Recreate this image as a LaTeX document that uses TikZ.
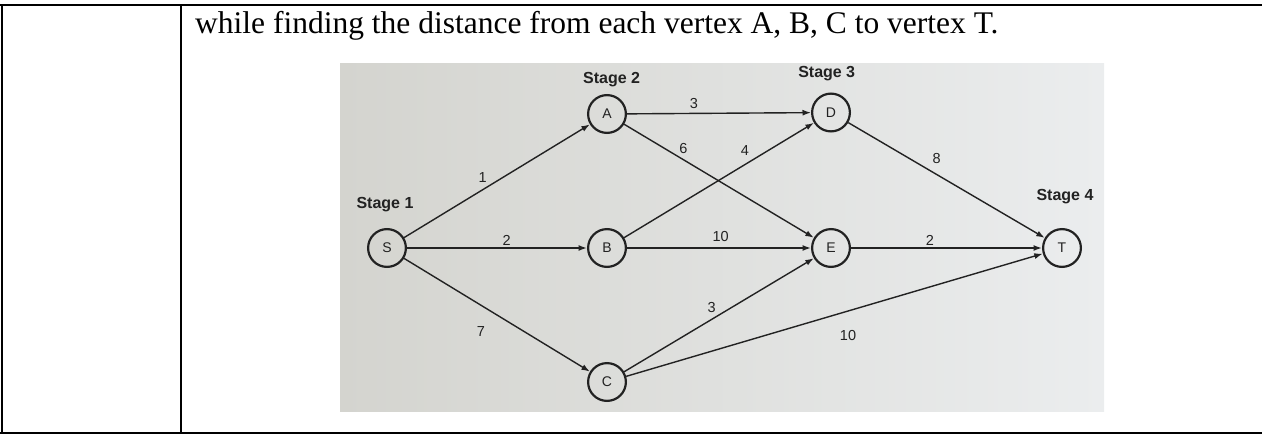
\documentclass[tikz,border=0pt]{standalone}
\usepackage{fontspec}
\setmainfont{Liberation Serif}
\newfontfamily\arialf{Liberation Sans}
\usetikzlibrary{arrows.meta}
\definecolor{ink}{RGB}{34,34,34}
\definecolor{photoL}{RGB}{212,212,207}
\definecolor{photoM}{RGB}{227,227,223}
\definecolor{photoR}{RGB}{235,237,238}
\begin{document}
\begin{tikzpicture}[x=1pt,y=-1pt,
  vtx/.style={circle,draw=ink,line width=2.2pt,minimum size=37.8pt,inner sep=0pt,
    font=\arialf\fontsize{14}{14}\selectfont,text=ink},
  edge/.style={draw=ink,line width=1.4pt,-{Latex[length=8.5pt,width=6pt]}},
  wt/.style={font=\arialf\fontsize{14.5}{15}\selectfont,text=ink,inner sep=0pt},
  stagelbl/.style={font=\arialf\bfseries\fontsize{16}{16}\selectfont,text=ink,inner sep=0pt},
  rulel/.style={line width=2pt,draw=black}]
\useasboundingbox (0,0) rectangle (1262,434);
% photo background
\shade[left color=photoL,middle color=photoM,right color=photoR] (340,63) rectangle (1104,411);
% table rules
\draw[rulel] (0,5) -- (1262,5);
\draw[rulel] (0,433) -- (1262,433);
\draw[rulel] (2,5) -- (2,433);
\draw[rulel] (181,5) -- (181,433);
% caption text
\node[anchor=base west,inner sep=0pt,font=\fontsize{31.5}{36}\selectfont] (caption) at (195,33)
  {while finding the distance from each vertex A, B, C to vertex T.};
% vertices
\node[vtx] (S) at (387,248) {S};
\node[vtx] (A) at (607,114) {A};
\node[vtx] (B) at (607,248) {B};
\node[vtx] (C) at (607,382) {C};
\node[vtx] (D) at (831,112.5) {D};
\node[vtx] (E) at (831,248) {E};
\node[vtx] (T) at (1062,248) {T};
% stage labels
\node[stagelbl] (st1) at (385,205) {Stage 1};
\node[stagelbl] (st2) at (611.7,80) {Stage 2};
\node[stagelbl] (st3) at (826.7,74) {Stage 3};
\node[stagelbl] (st4) at (1065,196.7) {Stage 4};
% edges
\draw[edge] (S) -- (A);
\draw[edge] (S) -- (B);
\draw[edge] (S) -- (C);
\draw[edge] (A) -- (D);
\draw[edge] (A) -- (E);
\draw[edge] (B) -- (D);
\draw[edge] (B) -- (E);
\draw[edge] (C) -- (E);
\draw[edge] (C) -- (T);
\draw[edge] (D) -- (T);
\draw[edge] (E) -- (T);
% weights
\node[wt] (wSA) at (482.7,177.3) {1};
\node[wt] (wSB) at (506.7,240) {2};
\node[wt] (wSC) at (481,331.7) {7};
\node[wt] (wAD) at (694,103.3) {3};
\node[wt] (wAE) at (683.3,148.3) {6};
\node[wt] (wBD) at (745,150.7) {4};
\node[wt] (wBE) at (720.7,236.7) {10};
\node[wt] (wCE) at (711.7,307.3) {3};
\node[wt] (wCT) at (848,336) {10};
\node[wt] (wDT) at (936.7,158.3) {8};
\node[wt] (wET) at (930,240) {2};
\end{tikzpicture}
\end{document}
